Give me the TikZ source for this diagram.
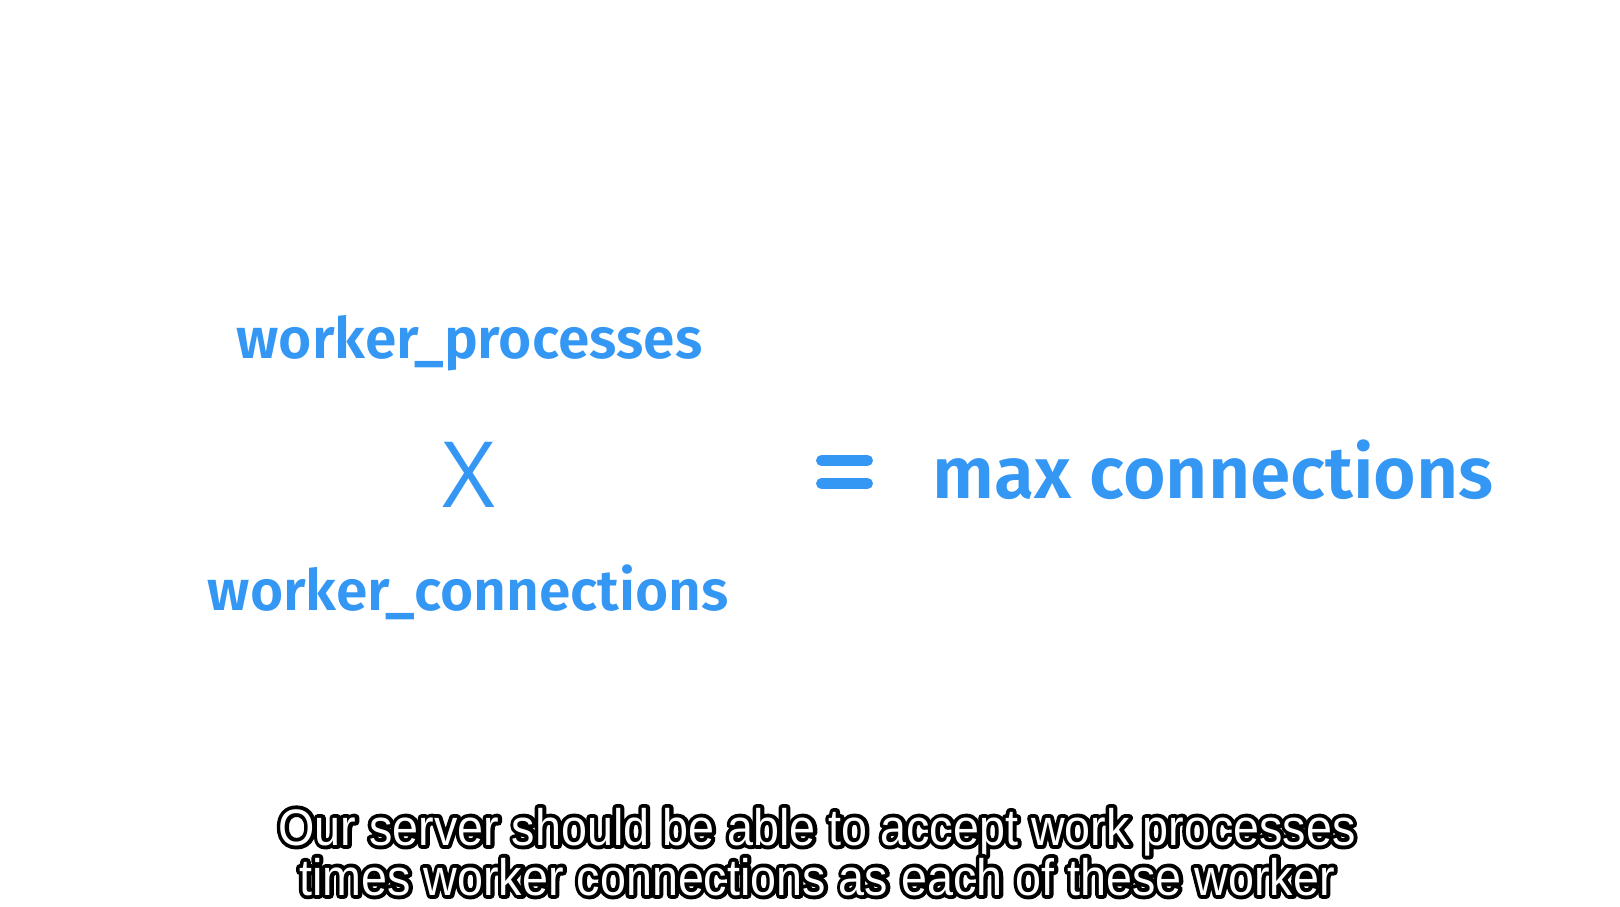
\documentclass[tikz,border=0pt]{standalone}
\usepackage{fontspec}
\setmainfont{Open Sans}
\newfontfamily\formfont{Fira Sans SemiBold}
\newfontfamily\subfont[FakeStretch=0.91]{Liberation Sans}
\usetikzlibrary{positioning}
\definecolor{formblue}{RGB}{52,151,244}
% outlined caption line: black stroked copy under a white fill
\newcommand\subline[1]{\rlap{\special{pdf:literal direct 2 Tr 2.2 w 1 j}#1\special{pdf:literal direct 0 Tr}}\textcolor{white}{#1}}

\begin{document}
\begin{tikzpicture}[
        term/.style={anchor=base, text=formblue, font=\formfont\fontsize{16.2}{19}\selectfont, inner sep=0pt},
        result/.style={anchor=base west, text=formblue, font=\formfont\fontsize{20.8}{25}\selectfont, inner sep=0pt},
        times/.style={text=formblue, font=\fontsize{26}{30}\selectfont, inner sep=0pt},
        bar/.style={formblue, line width=0.11cm, line cap=round},
        caption/.style={anchor=base, align=center, font=\subfont\fontsize{14.6}{14.2}\selectfont, inner sep=0pt}
    ]
    \useasboundingbox (0,0) rectangle (16.2,9.06);

    % left side of the formula
    \node[term] (procs) at (4.695, 5.48) {worker\_processes};
    \node[times] (mult) at (4.685, 4.31) {X};
    \node[term] (conns) at (4.685, 2.96) {worker\_connections};

    % equals sign and result
    \draw[bar] (8.215, 4.455) -- (8.675, 4.455);
    \draw[bar] (8.215, 4.225) -- (8.675, 4.225);
    \node[result] (maxconn) at (9.32, 4.07) {max connections};

    % subtitle
    \node[caption] (sub) at (8.17, 0.11) {\subline{Our server should be able to accept work processes}\\\subline{times worker connections as each of these worker}};
\end{tikzpicture}
\end{document}
